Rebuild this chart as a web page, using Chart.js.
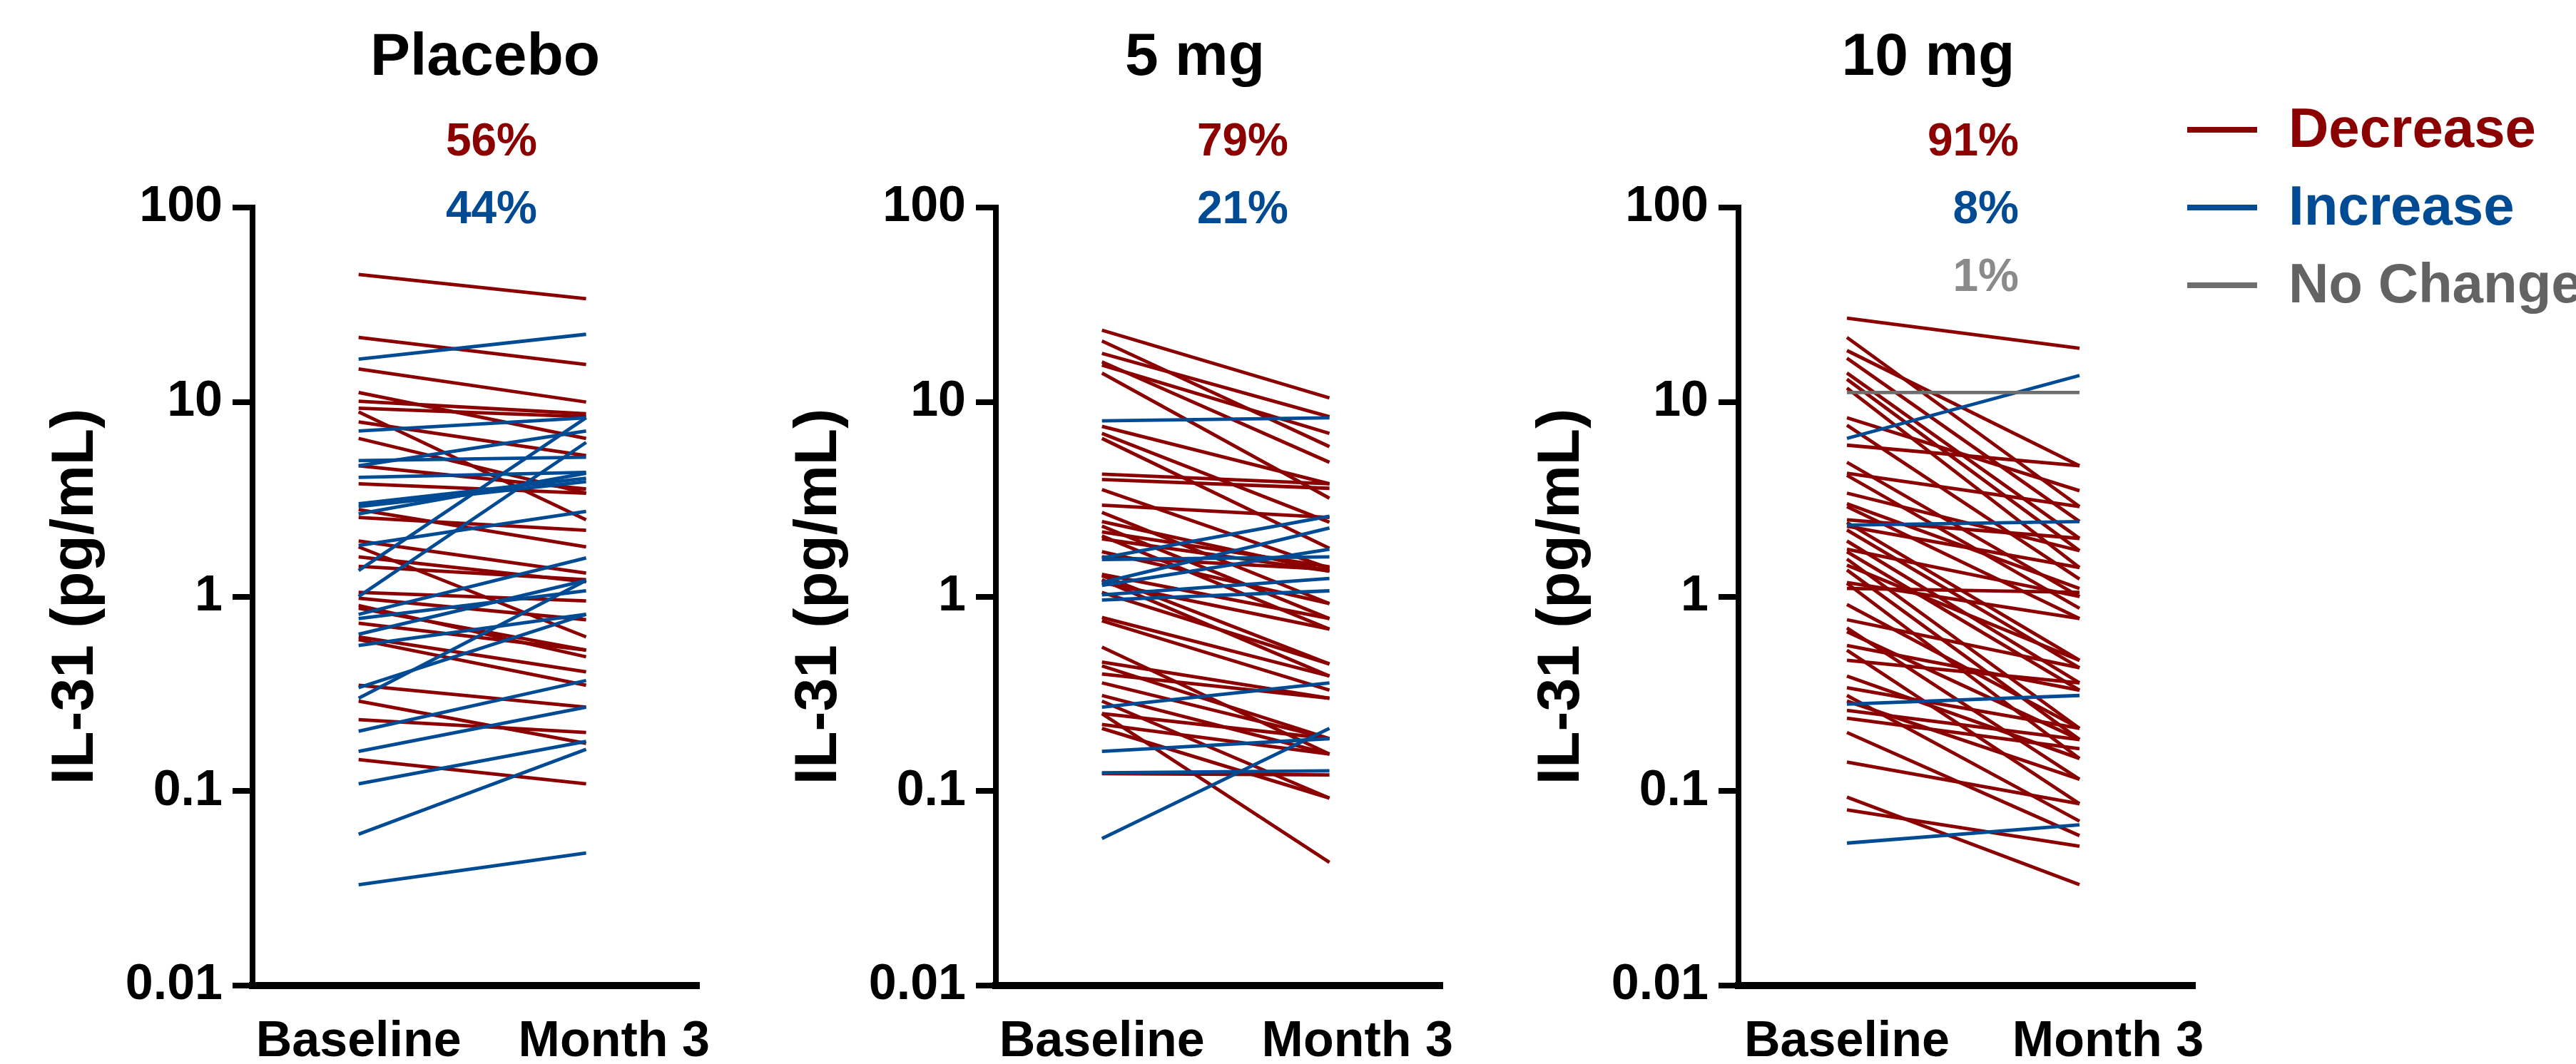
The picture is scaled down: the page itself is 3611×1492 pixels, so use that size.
<!DOCTYPE html>
<html>
<head>
<meta charset="utf-8">
<script src="https://cdn.jsdelivr.net/npm/chart.js@4.4.0/dist/chart.umd.min.js"></script>
<style>
  html, body { margin: 0; padding: 0; background: #fff; overflow: hidden; }
  #wrap { position: relative; width: 3611px; height: 1492px; }
  canvas { position: absolute; top: 0; }
</style>
</head>
<body>
<div id="wrap">
  <canvas id="c0" width="1042" height="1492" style="left:0px;width:1042px;height:1492px"></canvas>
  <canvas id="c1" width="1042" height="1492" style="left:1042px;width:1042px;height:1492px"></canvas>
  <canvas id="c2" width="1528" height="1492" style="left:2083px;width:1528px;height:1492px"></canvas>
</div>
<script>
// ── Data (pg/mL), one entry per subject ──
const placeboBaseline = [45.3, 21.5, 14.8, 11.2, 10.1, 9.3, 8.9, 7.9, 6.5, 4.7, 3.8, 2.8, 2.55, 1.93, 1.80, 1.60, 1.43, 1.05, 0.98, 0.90, 0.87, 0.73, 0.62, 0.60, 0.35, 0.29, 0.233, 0.145,
  16.6, 7.1, 5.0, 4.7, 4.1, 3.0, 2.9, 2.66, 1.83, 1.36, 1.0, 0.81, 0.77, 0.64, 0.56, 0.34, 0.30, 0.203, 0.160, 0.109, 0.060, 0.033];
const placeboMonth3 = [34.0, 15.6, 10.0, 6.5, 8.7, 8.4, 2.48, 5.3, 3.4, 3.57, 3.4, 1.8, 2.19, 1.32, 0.62, 1.19, 1.22, 0.95, 0.76, 0.49, 0.53, 0.53, 0.41, 0.35, 0.27, 0.176, 0.20, 0.109,
  22.3, 8.3, 5.2, 7.1, 4.35, 4.06, 3.9, 4.3, 2.74, 8.3, 6.2, 1.58, 1.07, 1.21, 0.81, 0.81, 1.21, 0.37, 0.27, 0.18, 0.164, 0.048];

const mg5Baseline = [23.4, 20.6, 17.8, 16.1, 15.5, 14.1, 7.5, 6.9, 6.5, 4.26, 4.0, 3.55, 2.95, 2.71, 2.43, 2.3, 2.15, 2.05, 1.98, 1.70, 1.6, 1.28, 1.22, 1.30, 1.18, 1.05, 0.78, 0.75, 0.55, 0.46, 0.44, 0.40, 0.36, 0.31, 0.29, 0.25, 0.21, 0.22, 0.123, 0.25,
  8.0, 1.58, 1.18, 1.55, 1.14, 1.02, 0.96, 0.27, 0.160, 0.124, 0.057];
const mg5Month3 = [10.5, 5.9, 8.4, 4.9, 6.9, 3.2, 3.8, 2.41, 1.77, 3.8, 3.6, 1.4, 2.55, 0.92, 1.35, 0.77, 1.42, 0.68, 1.35, 0.92, 1.38, 0.45, 0.39, 0.77, 0.68, 0.45, 0.39, 0.33, 0.155, 0.30, 0.186, 0.30, 0.186, 0.155, 0.092, 0.186, 0.092, 0.155, 0.121, 0.043,
  8.3, 2.59, 2.25, 1.60, 1.75, 1.24, 1.07, 0.36, 0.186, 0.127, 0.21];

const mg10Baseline = [27.0, 21.5, 18.4, 16.8, 14.1, 13.1, 11.8, 8.3, 7.6, 6.0, 4.9, 4.3, 4.2, 3.4, 2.9, 2.48, 2.4, 2.3, 2.2, 1.93, 1.75, 1.7, 1.56, 1.37, 1.18, 1.17, 1.1, 0.91, 0.76, 0.69, 0.66, 0.56, 0.53, 0.47, 0.39, 0.34, 0.31, 0.29, 0.237, 0.20, 0.141, 0.093, 0.080, 0.26, 1.45, 3.0,
  6.5, 2.33, 0.28, 0.054, 11.2];
const mg10Month3 = [18.9, 2.9, 4.7, 2.43, 1.99, 1.72, 1.41, 3.5, 1.23, 4.7, 1.0, 2.9, 0.87, 1.72, 0.77, 1.99, 0.47, 1.41, 0.43, 0.36, 1.0, 0.33, 0.21, 0.184, 0.77, 0.147, 1.05, 0.21, 0.43, 0.115, 0.184, 0.33, 0.086, 0.36, 0.147, 0.21, 0.070, 0.115, 0.165, 0.059, 0.086, 0.033, 0.052, 0.184, 0.47, 1.1,
  13.7, 2.43, 0.31, 0.067, 11.2];

const panelTitles = ['Placebo', '5 mg', '10 mg'];
const placeboPct = ['56%', '44%'];
const mg5Pct = ['79%', '21%'];
const mg10Pct = ['91%', '8%', '1%'];
const xTickLabels = ['Baseline', 'Month 3'];
const yTickValues = [0.01, 0.1, 1, 10, 100];
const yTitle = 'IL-31 (pg/mL)';
const legendLabels = ['Decrease', 'Increase', 'No Change'];

// ── Styles ──
const FONT = "'Liberation Sans', Arial, Helvetica, sans-serif";
const RED = '#8B0000';
const BLUE = '#004B93';
const GRAY = '#6E6E6E';
const lineColors = [RED, BLUE, GRAY];
const pctColors = [RED, BLUE, '#8A8A8A'];
const legendTextColors = [RED, BLUE, '#636363'];

Chart.defaults.font.family = FONT;

function buildDatasets(base, m3) {
    return base.map((b, i) => {
        const m = m3[i];
        const kind = m < b ? 0 : (m > b ? 1 : 2);
        return {
            data: [{ x: 0, y: b }, { x: 1, y: m }],
            borderColor: lineColors[kind],
            backgroundColor: lineColors[kind],
            borderWidth: 4.8,
            pointRadius: 0,
            fill: false,
            tension: 0,
            order: [2, 1, 0][kind]
        };
    });
}

// titles, percentages and (last panel) legend
const panelText = {
    id: 'panelText',
    afterDraw(chart, args, opts) {
        const { ctx, chartArea } = chart;
        const x0 = chartArea.left;
        ctx.save();
        ctx.textBaseline = 'alphabetic';
        ctx.font = `bold 84px ${FONT}`;
        ctx.fillStyle = '#000';
        ctx.textAlign = 'center';
        ctx.fillText(opts.title, x0 + opts.titleX, 105);

        ctx.font = `bold 64px ${FONT}`;
        ctx.textAlign = 'right';
        opts.pct.forEach((p, i) => {
            ctx.fillStyle = pctColors[i];
            ctx.fillText(p, x0 + opts.pctX, 218 + i * 95);
        });

        if (opts.legend) {
            const lx = 983;
            legendLabels.forEach((lab, i) => {
                const ly = 182 + i * 109;
                ctx.fillStyle = lineColors[i];
                ctx.fillRect(lx, ly - 4, 98, 8);
                ctx.font = `bold 78px ${FONT}`;
                ctx.textAlign = 'left';
                ctx.fillStyle = legendTextColors[i];
                ctx.fillText(lab, lx + 142, ly + 24);
            });
        }
        ctx.restore();
    }
};

function makePanel(id, base, m3, title, titleX, pct, pctX, legend) {
    const canvas = document.getElementById(id);
    return new Chart(canvas.getContext('2d'), {
        type: 'line',
        data: { datasets: buildDatasets(base, m3) },
        options: {
            responsive: false,
            animation: false,
            devicePixelRatio: 1,
            layout: { padding: { top: 291, left: 0, right: canvas.width - 994, bottom: 0 } },
            plugins: {
                legend: { display: false },
                tooltip: { enabled: false },
                panelText: { title, titleX, pct, pctX, legend }
            },
            scales: {
                x: {
                    type: 'linear',
                    min: -0.4663,
                    max: 1.4969,
                    bounds: 'data',
                    grid: { display: false, drawTicks: false },
                    border: { display: true, width: 10, color: '#000' },
                    afterBuildTicks: s => { s.ticks = [{ value: 0 }, { value: 1.1227 }]; },
                    afterFit: s => { s.height = 110; },
                    ticks: {
                        autoSkip: false,
                        maxRotation: 0,
                        padding: 38,
                        color: '#000',
                        font: { size: 70, weight: 'bold' },
                        callback: (v) => (v === 0 ? xTickLabels[0] : xTickLabels[1])
                    }
                },
                y: {
                    type: 'logarithmic',
                    min: 0.01,
                    max: 100,
                    bounds: 'data',
                    afterBuildTicks: s => { s.ticks = yTickValues.map(v => ({ value: v })); },
                    afterFit: s => { s.width = 354; },
                    grid: {
                        display: true,
                        drawOnChartArea: false,
                        drawTicks: true,
                        tickLength: 28,
                        tickWidth: 8,
                        lineWidth: 8,
                        tickColor: '#000',
                        color: '#000'
                    },
                    border: { display: true, width: 8, color: '#000' },
                    ticks: {
                        padding: 14,
                        color: '#000',
                        font: { size: 70, weight: 'bold' },
                        callback: v => String(v)
                    },
                    title: {
                        display: true,
                        text: yTitle,
                        color: '#000',
                        font: { size: 84, weight: 'bold' },
                        padding: { top: 56, bottom: 0 }
                    }
                }
            }
        },
        plugins: [panelText]
    });
}

makePanel('c0', placeboBaseline, placeboMonth3, panelTitles[0], 326, placeboPct, 399, false);
makePanel('c1', mg5Baseline, mg5Month3, panelTitles[1], 279, mg5Pct, 410, false);
makePanel('c2', mg10Baseline, mg10Month3, panelTitles[2], 266, mg10Pct, 393, true);
</script>
</body>
</html>
